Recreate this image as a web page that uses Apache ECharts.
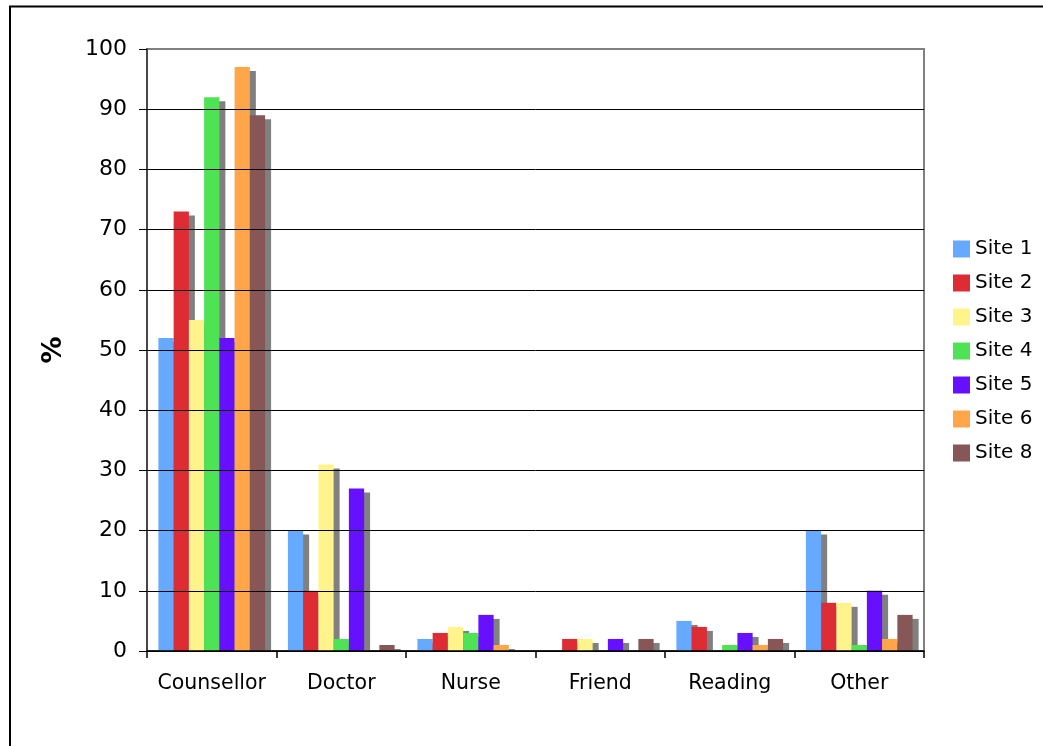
<!DOCTYPE html>
<html>
<head>
<meta charset="utf-8">
<script src="https://cdn.jsdelivr.net/npm/echarts@6/dist/echarts.min.js"></script>
<style>
  html, body { margin: 0; padding: 0; background: #fff; }
  #chart { width: 1043px; height: 746px; }
</style>
</head>
<body>
<div id="chart"></div>
<script>
// Who respondents turned to, by site (% of respondents)
const categories = ['Counsellor', 'Doctor', 'Nurse', 'Friend', 'Reading', 'Other'];
const site1 = [52, 20, 2, 0, 5, 20];
const site2 = [73, 10, 3, 2, 4, 8];
const site3 = [55, 31, 4, 2, 0, 8];
const site4 = [92, 2, 3, 0, 1, 1];
const site5 = [52, 27, 6, 2, 3, 10];
const site6 = [97, 0, 1, 0, 1, 2];
const site8 = [89, 1, 0, 2, 2, 6];
const yTicks = [0, 10, 20, 30, 40, 50, 60, 70, 80, 90, 100];

const seriesDefs = [
  { name: 'Site 1', data: site1, color: '#66aaff' },
  { name: 'Site 2', data: site2, color: '#dd2c34' },
  { name: 'Site 3', data: site3, color: '#fff48c' },
  { name: 'Site 4', data: site4, color: '#4ee355' },
  { name: 'Site 5', data: site5, color: '#6610ff' },
  { name: 'Site 6', data: site6, color: '#ffa64a' },
  { name: 'Site 8', data: site8, color: '#875656' }
];

const FONT = '"DejaVu Sans", Verdana, sans-serif';
const chart = echarts.init(document.getElementById('chart'), null, { renderer: 'canvas' });

const gridLeft = 147, gridTop = 49, gridRight = 1043 - 924, gridBottom = 746 - 651;

chart.setOption({
  animation: false,
  backgroundColor: '#ffffff',
  textStyle: { fontFamily: FONT },
  grid: {
    left: gridLeft, top: gridTop, right: gridRight, bottom: gridBottom,
    show: true, borderColor: '#808080', borderWidth: 2, backgroundColor: 'transparent'
  },
  legend: {
    orient: 'vertical',
    left: 953, top: 239,
    icon: 'rect',
    itemWidth: 17, itemHeight: 17, itemGap: 14,
    textStyle: { fontFamily: FONT, fontSize: 20, color: '#000', lineHeight: 17 },
    padding: 0
  },
  xAxis: {
    type: 'category',
    data: categories,
    z: 10,
    axisLine: { show: true, lineStyle: { color: '#000', width: 1.5 } },
    axisTick: { show: true, interval: 0, alignWithLabel: false, length: 7, lineStyle: { color: '#000', width: 1.5 } },
    axisLabel: { interval: 0, fontFamily: FONT, fontSize: 20.5, color: '#000', margin: 22 },
    splitLine: { show: false }
  },
  yAxis: {
    type: 'value',
    min: yTicks[0], max: yTicks[yTicks.length - 1], interval: 10,
    z: 10,
    name: '%',
    nameLocation: 'middle',
    nameRotate: 90,
    nameGap: 80,
    nameTextStyle: { fontFamily: FONT, fontSize: 27, fontWeight: 'bold', color: '#000' },
    axisLine: { show: true, lineStyle: { color: '#333', width: 1.5 } },
    axisTick: { show: true, inside: false, length: 8, lineStyle: { color: '#000', width: 1 } },
    axisLabel: { fontFamily: FONT, fontSize: 22, color: '#000', margin: 20 },
    splitLine: { show: true, showMaxLine: false, lineStyle: { color: '#000', width: 1 } }
  },
  // white strip under the plot hides the drop shadows below the baseline
  graphic: [
    {
      type: 'rect', z: 5, silent: true,
      shape: { x: gridLeft - 2, y: 652, width: 924 - gridLeft + 12, height: 8 },
      style: { fill: '#ffffff' }
    },
    {
      type: 'rect', z: 20, silent: true,
      shape: { x: 10, y: 6.5, width: 1200, height: 900 },
      style: { fill: 'none', stroke: '#000', lineWidth: 2 }
    }
  ],
  series: seriesDefs.map(s => ({
    type: 'bar',
    name: s.name,
    data: s.data,
    barGap: '0%',
    barCategoryGap: '17.6%',
    itemStyle: {
      color: s.color,
      shadowColor: '#808080',
      shadowBlur: 0,
      shadowOffsetX: 6,
      shadowOffsetY: 4
    },
    emphasis: { disabled: true }
  }))
});
</script>
</body>
</html>
